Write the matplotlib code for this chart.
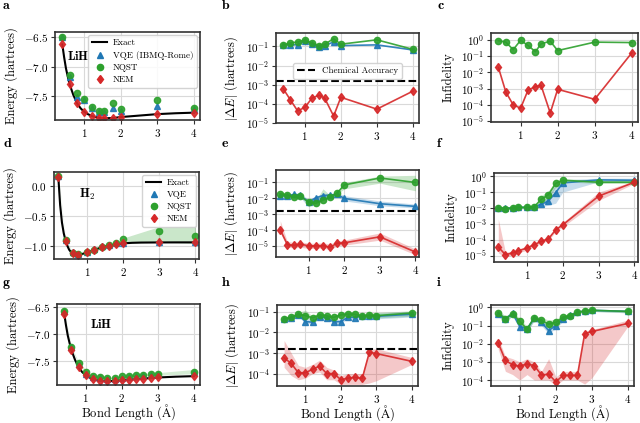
import matplotlib
matplotlib.use("Agg")
import matplotlib.pyplot as plt
from matplotlib.lines import Line2D
from matplotlib.ticker import LogLocator, NullLocator, MultipleLocator

plt.rcParams.update({
    "font.family": "serif",
    "font.serif": ["cmr10"],
    "mathtext.fontset": "cm",
    "axes.formatter.use_mathtext": True,
    "font.size": 8,
})

BLUE = "#1f77b4"
GREEN = "#2ca02c"
RED = "#d62728"

# ---------------- LiH exact curve ----------------
LIH_EXACT_X = [0.4, 0.45, 0.5, 0.55, 0.6, 0.7, 0.8, 0.9, 1.0, 1.1, 1.2, 1.3, 1.4, 1.5,
               1.6, 1.8, 2.0, 2.2, 2.4, 2.6, 2.8, 3.0, 3.5, 4.0]
LIH_EXACT_E = [-6.62, -6.84, -7.03, -7.17, -7.30, -7.48, -7.62, -7.71, -7.77, -7.81, -7.84,
               -7.86, -7.87, -7.877, -7.88, -7.875, -7.86, -7.85, -7.84, -7.83, -7.82, -7.81,
               -7.795, -7.785]

# ---------------- H2 exact curve ----------------
H2_EXACT_X = [0.2, 0.25, 0.3, 0.35, 0.4, 0.45, 0.5, 0.55, 0.6, 0.65, 0.7, 0.75, 0.8, 0.9,
              1.0, 1.1, 1.2, 1.4, 1.6, 1.8, 2.0, 2.25, 2.5, 3.0, 3.5, 4.0]
H2_EXACT_E = [0.157, -0.31, -0.60, -0.78, -0.904, -0.99, -1.055, -1.094, -1.116, -1.130,
              -1.136, -1.137, -1.134, -1.120, -1.101, -1.080, -1.057, -1.016, -0.987, -0.965,
              -0.949, -0.940, -0.936, -0.934, -0.933, -0.933]

# ---------------- row 1: LiH on IBMQ-Rome ----------------
HW_X = [0.4, 0.6, 0.8, 1.0, 1.2, 1.4, 1.55, 1.8, 2.0, 3.0, 4.0]
A_VQE = [-6.50, -7.18, -7.52, -7.57, -7.71, -7.78, -7.77, -7.70, -7.75, -7.67, -7.72]
A_NQST = [-6.50, -7.15, -7.45, -7.55, -7.69, -7.76, -7.75, -7.62, -7.73, -7.57, -7.71]
A_NEM = [-6.62, -7.30, -7.62, -7.77, -7.84, -7.87, -7.88, -7.875, -7.86, -7.80, -7.785]

B_VQE = [0.12, 0.12, 0.12, 0.20, 0.13, 0.09, 0.11, 0.17, 0.11, 0.12, 0.065]
B_NQST = [0.12, 0.15, 0.17, 0.22, 0.15, 0.11, 0.13, 0.25, 0.13, 0.22, 0.07]
B_NEM = [6.2e-4, 1.6e-4, 4.3e-5, 6.5e-5, 2.0e-4, 2.8e-4, 2.0e-4, 2.3e-5, 2.2e-4, 5.3e-5, 4.6e-4]

C_NQST = [0.85, 0.69, 0.24, 0.9, 0.43, 0.18, 0.54, 0.79, 0.21, 0.69, 0.65]
C_NEM = [0.0195, 6.2e-4, 1.0e-4, 6.3e-5, 8e-4, 1.3e-3, 1.6e-3, 3.2e-5, 9e-4, 2.2e-4, 0.15]

# ---------------- row 2: H2 simulated ----------------
H2_X = [0.2, 0.4, 0.6, 0.75, 1.0, 1.2, 1.4, 1.6, 1.8, 2.0, 3.0, 4.0]
D_VQE = [0.172, -0.889, -1.098, -1.121, -1.095, -1.046, -1.001, -0.971, -0.947, -0.939, -0.929, -0.930]
D_NQST = [0.177, -0.888, -1.104, -1.123, -1.095, -1.052, -1.008, -0.975, -0.943, -0.880, -0.744, -0.833]
D_NEM = [0.157, -0.904, -1.116, -1.137, -1.101, -1.057, -1.016, -0.987, -0.965, -0.949, -0.934, -0.933]
D_NQST_LO = [0.16, -0.90, -1.11, -1.13, -1.10, -1.056, -1.012, -0.98, -0.95, -0.95, -0.93, -0.95]
D_NQST_HI = [0.19, -0.88, -1.10, -1.115, -1.09, -1.048, -0.98, -0.97, -0.935, -0.86, -0.67, -0.66]

E_VQE = [0.015, 0.015, 0.018, 0.016, 0.006, 0.011, 0.015, 0.016, 0.018, 0.010, 0.0047, 0.0032]
E_VQE_LO = [0.012, 0.012, 0.013, 0.012, 0.003, 0.008, 0.011, 0.012, 0.013, 0.007, 0.0035, 0.0025]
E_VQE_HI = [0.018, 0.018, 0.022, 0.020, 0.009, 0.014, 0.020, 0.021, 0.024, 0.015, 0.007, 0.0045]
E_NQST = [0.020, 0.016, 0.012, 0.014, 0.006, 0.005, 0.008, 0.012, 0.022, 0.07, 0.19, 0.10]
E_NQST_LO = [0.016, 0.013, 0.010, 0.011, 0.005, 0.004, 0.007, 0.010, 0.018, 0.04, 0.09, 0.03]
E_NQST_HI = [0.025, 0.020, 0.016, 0.017, 0.008, 0.007, 0.040, 0.016, 0.028, 0.10, 0.25, 0.28]
E_NEM = [1.1e-4, 1.3e-5, 1.2e-5, 1.4e-5, 1.1e-5, 1.1e-5, 1.15e-5, 9e-6, 1.6e-5, 1.7e-5, 4e-5, 4.5e-6]
E_NEM_LO = [7e-5, 9e-6, 8e-6, 9e-6, 7.5e-6, 7.5e-6, 8e-6, 6e-6, 1.1e-5, 1.2e-5, 2.5e-5, 3e-6]
E_NEM_HI = [4e-4, 2e-5, 1.8e-5, 2e-5, 1.6e-5, 1.6e-5, 1.7e-5, 1.4e-5, 2.3e-5, 2.5e-5, 7e-5, 7e-6]

F_VQE = [0.010, 0.010, 0.010, 0.011, 0.011, 0.012, 0.017, 0.028, 0.09, 0.38, 0.59, 0.56]
F_VQE_LO = [0.008, 0.008, 0.008, 0.009, 0.009, 0.010, 0.012, 0.015, 0.02, 0.10, 0.45, 0.45]
F_VQE_HI = [0.012, 0.012, 0.012, 0.013, 0.013, 0.015, 0.025, 0.06, 0.30, 0.60, 0.75, 0.75]
F_NQST = [0.0095, 0.009, 0.010, 0.011, 0.011, 0.012, 0.035, 0.07, 0.35, 0.56, 0.42, 0.42]
F_NQST_LO = [0.008, 0.0075, 0.0085, 0.009, 0.009, 0.010, 0.020, 0.04, 0.20, 0.45, 0.35, 0.35]
F_NQST_HI = [0.012, 0.011, 0.012, 0.013, 0.013, 0.015, 0.060, 0.12, 0.50, 0.70, 0.55, 0.55]
F_NEM = [3.5e-5, 1.15e-5, 1.5e-5, 2e-5, 3e-5, 4.9e-5, 7.9e-5, 1.15e-4, 4.2e-4, 8.7e-4, 0.056, 0.42]
F_NEM_LO = [1.5e-5, 8e-6, 1.1e-5, 1.5e-5, 2.2e-5, 3.8e-5, 6e-5, 9e-5, 3.3e-4, 6.5e-4, 0.03, 0.35]
F_NEM_HI = [2e-3, 1.6e-5, 2e-5, 2.6e-5, 4e-5, 6.5e-5, 1e-4, 1.5e-4, 5.5e-4, 1.2e-3, 0.1, 0.5]

# ---------------- row 3: LiH simulated ----------------
SIM_X = [0.4, 0.6, 0.8, 1.0, 1.2, 1.4, 1.6, 1.8, 2.0, 2.2, 2.4, 2.6, 2.8, 3.0, 4.0]
G_VQE = [-6.577, -7.25, -7.55, -7.737, -7.809, -7.815, -7.83, -7.843, -7.827, -7.795, -7.788,
         -7.77, -7.758, -7.75, -7.71]
G_NQST = [-6.574, -7.247, -7.543, -7.706, -7.79, -7.80, -7.818, -7.822, -7.79, -7.773, -7.765,
          -7.77, -7.753, -7.746, -7.70]
G_NEM = [-6.62, -7.30, -7.62, -7.77, -7.84, -7.87, -7.88, -7.875, -7.86, -7.85, -7.84, -7.83,
         -7.82, -7.81, -7.785]
G_NQST_LO = [-6.58, -7.26, -7.56, -7.73, -7.80, -7.81, -7.83, -7.83, -7.81, -7.79, -7.78, -7.78,
             -7.77, -7.77, -7.74]
G_NQST_HI = [-6.56, -7.23, -7.52, -7.66, -7.78, -7.78, -7.80, -7.81, -7.77, -7.75, -7.75, -7.75,
             -7.73, -7.72, -7.66]

H_VQE = [0.043, 0.05, 0.07, 0.033, 0.031, 0.055, 0.05, 0.032, 0.033, 0.055, 0.052, 0.06, 0.062, 0.06, 0.075]
H_VQE_LO = [0.036, 0.042, 0.06, 0.027, 0.026, 0.045, 0.042, 0.027, 0.028, 0.045, 0.044, 0.05, 0.05, 0.045, 0.055]
H_VQE_HI = [0.052, 0.06, 0.085, 0.05, 0.04, 0.07, 0.06, 0.04, 0.045, 0.07, 0.065, 0.075, 0.08, 0.085, 0.10]
H_NQST = [0.046, 0.053, 0.077, 0.064, 0.05, 0.07, 0.062, 0.053, 0.07, 0.077, 0.075, 0.06, 0.067, 0.064, 0.086]
H_NQST_LO = [0.04, 0.045, 0.065, 0.05, 0.042, 0.06, 0.052, 0.045, 0.06, 0.065, 0.063, 0.05, 0.056, 0.05, 0.06]
H_NQST_HI = [0.055, 0.065, 0.09, 0.12, 0.06, 0.085, 0.075, 0.065, 0.085, 0.10, 0.095, 0.075, 0.085, 0.09, 0.11]
H_NEM = [5.8e-4, 3.1e-4, 1.1e-4, 1.1e-4, 1.6e-4, 2.3e-4, 1.0e-4, 1.0e-4, 5e-5, 6e-5, 6.6e-5, 5.8e-5,
         1.07e-3, 9.3e-4, 3.9e-4]
H_NEM_LO = [2e-4, 8e-5, 5e-5, 6e-5, 1e-4, 1.2e-4, 5e-5, 5e-5, 3e-5, 3e-5, 3e-5, 3e-5, 3.5e-5, 4.5e-5, 2.8e-4]
H_NEM_HI = [4e-3, 1e-3, 2.5e-4, 2e-4, 2.8e-4, 4.5e-4, 2e-4, 1.5e-4, 8e-5, 1e-4, 1e-4, 1e-4, 1.5e-3, 1.6e-3, 6e-4]

I_VQE = [0.43, 0.23, 0.47, 0.088, 0.066, 0.25, 0.15, 0.053, 0.10, 0.24, 0.38, 0.53, 0.65, 0.69, 0.60]
I_VQE_LO = [0.30, 0.17, 0.33, 0.06, 0.045, 0.18, 0.10, 0.035, 0.07, 0.17, 0.27, 0.45, 0.55, 0.60, 0.50]
I_VQE_HI = [0.60, 0.32, 0.60, 0.13, 0.09, 0.35, 0.22, 0.08, 0.15, 0.33, 0.50, 0.62, 0.72, 0.78, 0.70]
I_NQST = [0.51, 0.23, 0.45, 0.17, 0.063, 0.27, 0.19, 0.12, 0.15, 0.29, 0.35, 0.53, 0.63, 0.69, 0.60]
I_NQST_LO = [0.35, 0.17, 0.33, 0.11, 0.045, 0.20, 0.13, 0.08, 0.10, 0.22, 0.27, 0.45, 0.55, 0.60, 0.50]
I_NQST_HI = [0.75, 0.33, 0.60, 0.25, 0.09, 0.35, 0.28, 0.20, 0.22, 0.38, 0.45, 0.62, 0.72, 0.78, 0.70]
I_NEM = [0.011, 1.2e-3, 6.9e-4, 5.8e-4, 7.7e-4, 6.2e-4, 1.9e-4, 2.1e-4, 8e-5, 1.8e-4, 1.8e-4, 1.8e-4,
         0.035, 0.047, 0.13]
I_NEM_LO = [5e-3, 3e-4, 2e-4, 1e-4, 2e-4, 1e-4, 1e-4, 1e-4, 5e-5, 1e-4, 1e-4, 1e-4, 6e-5, 1.3e-4, 0.09]
I_NEM_HI = [0.02, 2e-3, 1.5e-3, 1e-3, 1.5e-3, 1e-3, 3e-4, 1.5e-3, 1.5e-4, 3e-4, 3e-4, 3e-4, 0.05, 0.06, 0.2]

CHEM_ACC = 1.6e-3

W, H = 640, 423
LEG_KW = dict(fontsize=6.5, borderaxespad=0.3, handlelength=1.7, handletextpad=0.6,
              labelspacing=0.4, borderpad=0.45, framealpha=0.85, edgecolor="#cccccc")


def px_axes(fig, left, top, right, bottom):
    return fig.add_axes([left / W, 1 - bottom / H, (right - left) / W, (bottom - top) / H])


def style(ax, xlim):
    ax.set_xlim(*xlim)
    ax.set_xticks([1, 2, 3, 4])
    ax.grid(True, color="#d9d9d9", lw=0.8)
    ax.set_axisbelow(True)
    for sp in ax.spines.values():
        sp.set_color("#333333")
        sp.set_linewidth(1.2)
    ax.tick_params(length=3, width=0.8, color="#333333", labelsize=8, pad=2)


def log_style(ax, ylim):
    ax.set_yscale("log")
    ax.set_ylim(*ylim)
    ax.yaxis.set_major_locator(LogLocator(base=10, subs=(1.0,), numticks=12))
    ax.yaxis.set_minor_locator(NullLocator())


def series(ax, x, y, color, marker, lo=None, hi=None, line=True, ms=4.5):
    if lo is not None:
        ax.fill_between(x, lo, hi, color=color, alpha=0.25, lw=0)
    ax.plot(x, y, color=color, marker=marker, ms=ms, lw=1.2 if line else 0,
            ls="-" if line else "none", alpha=0.9)


fig = plt.figure(figsize=(6.4, 4.23), dpi=100)

row_xlim = [(0.2, 4.17), (0.08, 4.1), (0.2, 4.17)]
BOND = r"Bond Length ($\mathrm{\AA}$)"

handles = [Line2D([], [], color="k", lw=1.5),
           Line2D([], [], color=BLUE, marker="^", ls="none", ms=4.5),
           Line2D([], [], color=GREEN, marker="o", ls="none", ms=4.5),
           Line2D([], [], color=RED, marker="d", ls="none", ms=4.5)]

# ---- a ----
ax = px_axes(fig, 55, 32, 200, 120)
style(ax, row_xlim[0])
ax.plot(LIH_EXACT_X, LIH_EXACT_E, color="k", lw=1.5)
series(ax, HW_X, A_VQE, BLUE, "^", line=False)
series(ax, HW_X, A_NQST, GREEN, "o", line=False)
series(ax, HW_X, A_NEM, RED, "d", line=False)
ax.set_ylim(-7.91, -6.41)
ax.yaxis.set_major_locator(MultipleLocator(0.5))
ax.set_ylabel("Energy (hartrees)", fontsize=9)
ax.text(0.08, 0.68, r"$\mathbf{LiH}$", transform=ax.transAxes, fontsize=9)
ax.legend(handles, ["Exact", "VQE (IBMQ-Rome)", "NQST", "NEM"], loc="upper right", **LEG_KW)

# ---- b ----
ax = px_axes(fig, 276, 33, 419, 123)
style(ax, row_xlim[0])
log_style(ax, (1e-5, 0.5))
series(ax, HW_X, B_VQE, BLUE, "^")
series(ax, HW_X, B_NQST, GREEN, "o")
series(ax, HW_X, B_NEM, RED, "d")
ax.axhline(CHEM_ACC, color="k", ls="--", lw=1.5)
ax.set_ylabel(r"$|\Delta E|$ (hartrees)", fontsize=9)
ax.legend([Line2D([], [], color="k", ls="--", lw=1.5)], ["Chemical Accuracy"], loc="center",
          bbox_to_anchor=(0.5, 0.58), fontsize=6.5, framealpha=0.85, edgecolor="#cccccc",
          handlelength=2.0, borderpad=0.4)

# ---- c ----
ax = px_axes(fig, 491, 33, 638, 122)
style(ax, row_xlim[0])
log_style(ax, (9e-6, 2.5))
series(ax, HW_X, C_NQST, GREEN, "o")
series(ax, HW_X, C_NEM, RED, "d")
ax.set_ylabel("Infidelity", fontsize=9)

# ---- d ----
ax = px_axes(fig, 54, 172, 199, 259)
style(ax, row_xlim[1])
ax.fill_between(H2_X, D_NQST_LO, D_NQST_HI, color=GREEN, alpha=0.25, lw=0)
ax.plot(H2_EXACT_X, H2_EXACT_E, color="k", lw=1.5)
series(ax, H2_X, D_VQE, BLUE, "^", line=False)
series(ax, H2_X, D_NQST, GREEN, "o", line=False)
series(ax, H2_X, D_NEM, RED, "d", line=False)
ax.set_ylim(-1.21, 0.24)
ax.yaxis.set_major_locator(MultipleLocator(0.5))
ax.set_ylabel("Energy (hartrees)", fontsize=9)
ax.text(0.17, 0.7, r"$\mathbf{H_2}$", transform=ax.transAxes, fontsize=9)
ax.legend(handles, ["Exact", "VQE", "NQST", "NEM"], loc="upper right", **LEG_KW)

# ---- e ----
ax = px_axes(fig, 276, 170, 419, 257)
style(ax, row_xlim[1])
log_style(ax, (2.2e-6, 0.6))
series(ax, H2_X, E_VQE, BLUE, "^", E_VQE_LO, E_VQE_HI)
series(ax, H2_X, E_NQST, GREEN, "o", E_NQST_LO, E_NQST_HI)
series(ax, H2_X, E_NEM, RED, "d", E_NEM_LO, E_NEM_HI)
ax.axhline(CHEM_ACC, color="k", ls="--", lw=1.5)
ax.set_ylabel(r"$|\Delta E|$ (hartrees)", fontsize=9)

# ---- f ----
ax = px_axes(fig, 494, 173, 638, 262)
style(ax, row_xlim[1])
log_style(ax, (4e-6, 1.6))
series(ax, H2_X, F_VQE, BLUE, "^", F_VQE_LO, F_VQE_HI)
series(ax, H2_X, F_NQST, GREEN, "o", F_NQST_LO, F_NQST_HI)
series(ax, H2_X, F_NEM, RED, "d", F_NEM_LO, F_NEM_HI)
ax.set_ylabel("Infidelity", fontsize=9)

# ---- g ----
ax = px_axes(fig, 57, 304, 200, 385)
style(ax, row_xlim[2])
ax.fill_between(SIM_X, G_NQST_LO, G_NQST_HI, color=GREEN, alpha=0.2, lw=0)
ax.plot(LIH_EXACT_X, LIH_EXACT_E, color="k", lw=1.5)
series(ax, SIM_X, G_VQE, BLUE, "^", line=False)
series(ax, SIM_X, G_NQST, GREEN, "o", line=False)
series(ax, SIM_X, G_NEM, RED, "d", line=False)
ax.set_ylim(-7.95, -6.44)
ax.yaxis.set_major_locator(MultipleLocator(0.5))
ax.set_ylabel("Energy (hartrees)", fontsize=9)
ax.set_xlabel(BOND, fontsize=9, labelpad=-1)
ax.text(0.23, 0.7, r"$\mathbf{LiH}$", transform=ax.transAxes, fontsize=9)

# ---- h ----
ax = px_axes(fig, 277, 305, 418, 386)
style(ax, row_xlim[2])
log_style(ax, (2.5e-5, 0.21))
series(ax, SIM_X, H_VQE, BLUE, "^", H_VQE_LO, H_VQE_HI)
series(ax, SIM_X, H_NQST, GREEN, "o", H_NQST_LO, H_NQST_HI)
series(ax, SIM_X, H_NEM, RED, "d", H_NEM_LO, H_NEM_HI)
ax.axhline(CHEM_ACC, color="k", ls="--", lw=1.5)
ax.set_ylabel(r"$|\Delta E|$ (hartrees)", fontsize=9)
ax.set_xlabel(BOND, fontsize=9, labelpad=-1)

# ---- i ----
ax = px_axes(fig, 491, 305, 634, 386)
style(ax, row_xlim[2])
log_style(ax, (4.7e-5, 1.35))
series(ax, SIM_X, I_VQE, BLUE, "^", I_VQE_LO, I_VQE_HI)
series(ax, SIM_X, I_NQST, GREEN, "o", I_NQST_LO, I_NQST_HI)
series(ax, SIM_X, I_NEM, RED, "d", I_NEM_LO, I_NEM_HI)
ax.set_ylabel("Infidelity", fontsize=9)
ax.set_xlabel(BOND, fontsize=9, labelpad=-1)

# panel letters
for letter, x, y in [("a", 3, 9), ("b", 222, 9), ("c", 437, 9),
                     ("d", 3, 147), ("e", 222, 147), ("f", 437, 147),
                     ("g", 3, 286), ("h", 222, 286), ("i", 437, 286)]:
    fig.text(x / W, 1 - y / H, letter, fontsize=10, family="cmb10", va="baseline")

fig.savefig("out.png", dpi=100)
